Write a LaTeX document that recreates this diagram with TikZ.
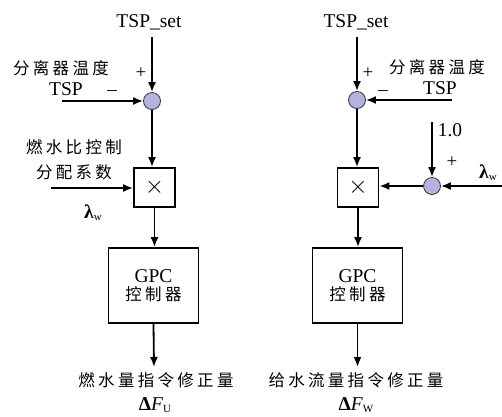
\documentclass[tikz,border=0pt]{standalone}
\usepackage{fontspec}
\setmainfont{Liberation Serif}
\newfontfamily\cjk[LetterSpace=20]{Noto Sans CJK SC}
\usetikzlibrary{arrows.meta}
\tikzset{
  line/.style={line width=1.8pt,-{Latex[length=10pt,width=8pt]}},
  sumnode/.style={circle,draw=black!80,line width=0.8pt,fill={rgb,255:red,180;green,178;blue,222},minimum size=17pt,inner sep=0pt},
  mulbox/.style={draw,line width=1.8pt,minimum width=41pt,minimum height=39pt,inner sep=0pt,font=\fontsize{24}{24}\selectfont},
  gpcbox/.style={draw,line width=1.8pt,minimum width=90pt,minimum height=75pt,inner sep=0pt,align=center},
  lat/.style={font=\fontsize{19.5}{20}\selectfont,inner sep=0pt},
  zh/.style={font=\fontsize{16.5}{20}\selectfont\cjk,inner sep=0pt},
  sgn/.style={font=\fontsize{19}{19}\selectfont,inner sep=0pt}
}
\newcommand{\lamw}{{\bfseries λ}\raisebox{-2pt}{\fontsize{11}{11}\selectfont w}}
\begin{document}
\begin{tikzpicture}[x=1pt,y=-1pt]
\useasboundingbox (0,0) rectangle (502,416);
% ---------- left column ----------
\node[lat] (lset) at (149,22) {TSP\_set};
\coordinate (ltop) at (152,37);
\node[sumnode] (ls) at (152,101) {};
\node[sgn] (lplus) at (141,73) {+};
\node[sgn] (lminus) at (112,93) {--};
\node[zh] (ltemp) at (61,68) {分离器温度};
\node[lat] (ltsp) at (66,89) {TSP};
\coordinate (lin) at (62,101);
\node[mulbox] (lm) at (154.5,187.5) {$\times$};
\node[zh] (lr1) at (74,147) {燃水比控制};
\node[zh] (lr2) at (74,172) {分配系数};
\coordinate (lin2) at (51,188);
\node[lat] (llam) at (93,213) {\lamw};
\node[gpcbox] (lg) at (153.5,285.5) {\fontsize{19.5}{20}\selectfont GPC\\[3pt]\fontsize{16.5}{20}\selectfont\cjk 控制器};
\coordinate (lout) at (154,367);
\node[zh] (lo1) at (156,380) {燃水量指令修正量};
\node[lat] (lo2) at (155,405.5) {{\bfseries Δ}{\itshape F}\raisebox{-2pt}{\fontsize{11}{11}\selectfont U}};
\draw[line] (ltop) -- (ls);
\draw[line] (lin) -- (ls);
\draw[line] (ls) -- (ls |- lm.north);
\draw[line] (lin2) -- (lin2 -| lm.west);
\draw[line] (lm.south) -- (lg.north -| lm);
\draw[line] (lg.south) -- (lout);
% ---------- right column ----------
\node[lat] (rset) at (356,22) {TSP\_set};
\coordinate (rtop) at (357,37);
\node[sumnode] (rs) at (357,100) {};
\node[sgn] (rplus) at (368,73) {+};
\node[sgn] (rminus) at (383,93) {--};
\node[zh] (rtemp) at (437,67) {分离器温度};
\node[lat] (rtsp) at (440,88) {TSP};
\coordinate (rin) at (452,100);
\node[mulbox] (rm) at (358,187.5) {$\times$};
\node[sumnode] (rs2) at (432,186) {};
\coordinate (rone) at (432,122);
\node[lat] (rlab1) at (450,130) {1.0};
\node[sgn] (rplus2) at (452,162) {+};
\node[lat] (rlam) at (488,173) {\lamw};
\coordinate (rin2) at (502,186);
\node[gpcbox] (rg) at (357.5,285.5) {\fontsize{19.5}{20}\selectfont GPC\\[3pt]\fontsize{16.5}{20}\selectfont\cjk 控制器};
\coordinate (rout) at (357.5,367);
\node[zh] (ro1) at (356,380) {给水流量指令修正量};
\node[lat] (ro2) at (356,405.5) {{\bfseries Δ}{\itshape F}\raisebox{-2pt}{\fontsize{11}{11}\selectfont W}};
\draw[line] (rtop) -- (rs);
\draw[line] (rin) -- (rs);
\draw[line] (rs) -- (rs |- rm.north);
\draw[line] (rone) -- (rs2);
\draw[line] (rin2) -- (rs2);
\draw[line] (rs2) -- (rm.east |- rs2);
\draw[line] (rm.south) -- (rg.north -| rm);
\draw[line] (rg.south) -- (rout);
\end{tikzpicture}
\end{document}
